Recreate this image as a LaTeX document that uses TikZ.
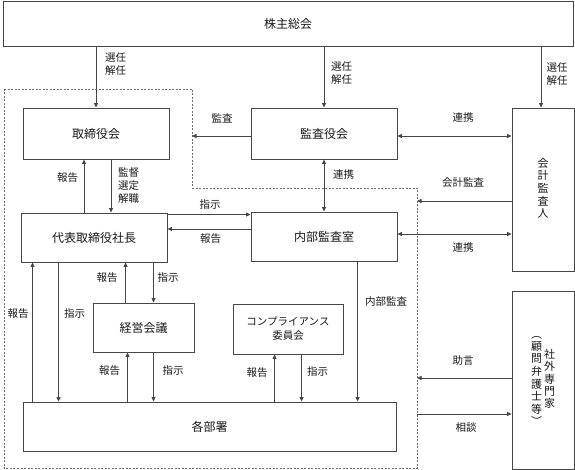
\documentclass[tikz,border=0pt]{standalone}
\usepackage{fontspec}
\setmainfont{Noto Sans CJK JP}
\usetikzlibrary{arrows.meta}
\definecolor{lc}{RGB}{70,70,70}
\definecolor{tc}{RGB}{25,25,25}
\definecolor{dc}{RGB}{110,110,110}
\begin{document}
\begin{tikzpicture}[x=1pt,y=-1pt,
  box/.style={draw=lc, line width=0.9pt, fill=white, inner sep=0pt, align=center,
    font=\fontsize{12}{14}\selectfont, text=tc},
  lbl/.style={font=\fontsize{10.5}{13.5}\selectfont, text=tc, inner sep=0pt, align=center},
  arr/.style={draw=lc, line width=0.8pt, -{Triangle[length=4.5pt,width=4pt]}},
  darr/.style={draw=lc, line width=0.8pt, {Triangle[length=4.5pt,width=4pt]}-{Triangle[length=4.5pt,width=4pt]}},
  bord/.style={draw=dc, line width=0.8pt, dash pattern=on 2pt off 1.5pt},
]
\useasboundingbox (0,0) rectangle (575,470);

% dashed company boundary
\coordinate (bd1) at (192,89);
\coordinate (bd2) at (417,188);
\draw[bord] (4,89) -- (bd1) -- (192,188) -- (bd2) -- (417,468) -- (4,468) -- cycle;

% boxes
\node[box, minimum width=570pt, minimum height=45pt] (sh) at (288,23.5) {株主総会};
\node[box, minimum width=146pt, minimum height=51pt] (tb) at (96,133.5) {取締役会};
\node[box, minimum width=146pt, minimum height=51pt] (ka) at (324,133.5) {監査役会};
\node[box, minimum width=62pt, minimum height=163pt] (kk) at (543,189.5)
  {\fontsize{11}{11.5}\selectfont\begin{tabular}[c]{@{}c@{}}会\\計\\監\\査\\人\end{tabular}};
\node[box, minimum width=62pt, minimum height=178pt] (gs) at (543,380)
  {\fontsize{11}{11.2}\selectfont\begin{tabular}[c]{@{}c@{}}︵\\顧\\問\\弁\\護\\士\\等\\︶\end{tabular}\hspace{2pt}\begin{tabular}[c]{@{}c@{}}社\\外\\専\\門\\家\end{tabular}};
\node[box, minimum width=146pt, minimum height=49pt] (dh) at (94,237.5) {代表取締役社長};
\node[box, minimum width=146pt, minimum height=49pt] (nb) at (324,236.5) {内部監査室};
\node[box, minimum width=101pt, minimum height=49pt] (kg) at (143.5,327.5) {経営会議};
\node[box, minimum width=110pt, minimum height=50pt, font=\fontsize{10.5}{14}\selectfont] (cp) at (288,329) {コンプライアンス\\委員会};
\node[box, minimum width=373pt, minimum height=49pt] (kb) at (209.5,426.5) {各部署};

% shareholders -> boards
\draw[arr] (sh.south -| tb.north) -- (tb.north);
\draw[arr] (sh.south -| ka.north) -- (ka.north);
\coordinate (k1) at ([xshift=-2pt]kk.north);
\draw[arr] (sh.south -| k1) -- (k1);
\node[lbl] (l1) at (115.5,64) {選任\\解任};
\node[lbl] (l2) at (341.5,73) {選任\\解任};
\node[lbl] (l3) at (557,74) {選任\\解任};

% audit board
\coordinate (a1) at ([yshift=-2.5pt]ka.west);
\draw[arr] (a1) -- (a1 -| bd1);
\node[lbl] (l4) at (222,118) {監査};
\coordinate (a2) at ([yshift=-2.5pt]ka.east);
\draw[darr] (a2) -- (a2 -| kk.west);
\node[lbl] (l5) at (463,118) {連携};
\draw[darr] (ka.south) -- (nb.north);
\node[lbl] (l6) at (343.5,175) {連携};
\coordinate (a3) at ([yshift=-11.5pt]kk.west);
\draw[arr] (a3) -- (a3 -| bd2);
\node[lbl] (l7) at (463,182.5) {会計監査};
\coordinate (a4) at ([yshift=2.5pt]nb.east);
\draw[darr] (a4) -- (a4 -| kk.west);
\node[lbl] (l8) at (463,248) {連携};

% board <-> president
\coordinate (b1) at ([xshift=-12pt]tb.south);
\draw[arr] (b1 |- dh.north) -- (b1);
\node[lbl] (l9) at (67.5,178) {報告};
\coordinate (b2) at ([xshift=15pt]tb.south);
\draw[arr] (b2) -- (b2 |- dh.north);
\node[lbl, font=\fontsize{10.5}{13}\selectfont] (l10) at (128.5,186) {監督\\選定\\解職};

% president <-> internal audit
\coordinate (c1) at ([yshift=-2pt]dh.north east);
\draw[arr] (c1) -- (c1 -| nb.west);
\node[lbl] (l11) at (210,204.5) {指示};
\coordinate (c2) at ([yshift=7.5pt]nb.west);
\draw[arr] (c2) -- (c2 -| dh.east);
\node[lbl] (l12) at (210.5,239) {報告};

% president <-> departments
\coordinate (d1) at ([xshift=12pt]dh.south west);
\draw[arr] (d1 |- kb.north) -- (d1);
\node[lbl] (l13) at (18,313.5) {報告};
\coordinate (d2) at ([xshift=38pt]dh.south west);
\draw[arr] (d2) -- (d2 |- kb.north);
\node[lbl] (l14) at (74.5,313.5) {指示};

% president <-> management meeting
\coordinate (e1) at ([xshift=33pt]kg.north west);
\draw[arr] (e1) -- (e1 |- dh.south);
\node[lbl] (l15) at (107,278) {報告};
\coordinate (e2) at ([xshift=61pt]kg.north west);
\draw[arr] (e2 |- dh.south) -- (e2);
\node[lbl] (l16) at (168,278) {指示};

% management meeting <-> departments
\coordinate (f1) at ([xshift=35pt]kg.south west);
\draw[arr] (f1 |- kb.north) -- (f1);
\node[lbl] (l17) at (109.5,371) {報告};
\coordinate (f2) at ([xshift=61pt]kg.south west);
\draw[arr] (f2) -- (f2 |- kb.north);
\node[lbl] (l18) at (173,371) {指示};

% compliance <-> departments
\coordinate (g1) at ([xshift=42pt]cp.south west);
\draw[arr] (g1 |- kb.north) -- (g1);
\node[lbl] (l19) at (257,372.5) {報告};
\coordinate (g2) at ([xshift=69pt]cp.south west);
\draw[arr] (g2) -- (g2 |- kb.north);
\node[lbl] (l20) at (317.5,372) {指示};

% internal audit -> departments
\coordinate (h1) at ([xshift=107pt]nb.south west);
\draw[arr] (h1) -- (h1 |- kb.north);
\node[lbl] (l21) at (386,301.5) {内部監査};

% outside experts
\coordinate (i1) at ([yshift=2pt]gs.west);
\draw[arr] (i1) -- (i1 -| bd2);
\node[lbl] (l22) at (463,360.5) {助言};
\coordinate (i2) at ([yshift=-34pt]gs.west);
\draw[arr] (i2 -| bd2) -- (i2);
\node[lbl] (l23) at (466,427.5) {相談};
\end{tikzpicture}
\end{document}
